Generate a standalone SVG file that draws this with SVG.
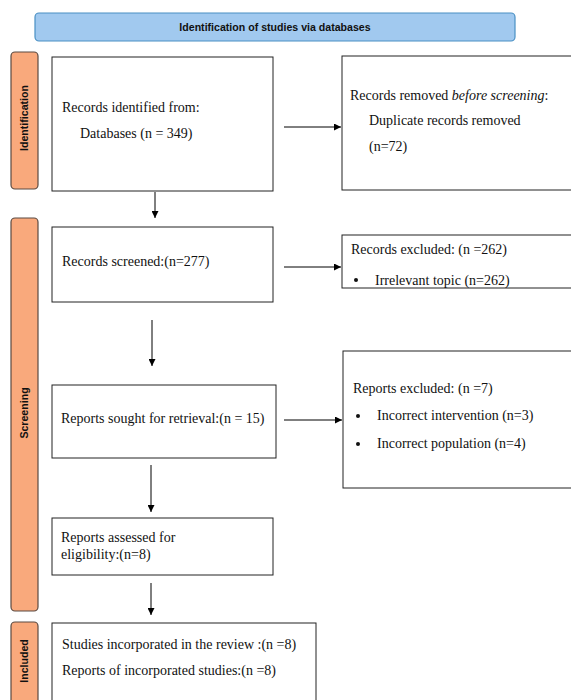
<svg xmlns="http://www.w3.org/2000/svg" width="571" height="700" viewBox="0 0 571 700">
<style>
.box{fill:#fff;stroke:#222;stroke-width:1}
.bar{fill:#f9a97c;stroke:#5a4a42;stroke-width:1.2}
.t{font-family:"Liberation Serif","Times New Roman",serif;font-size:14px;fill:#111}
.lbl{font-family:"Liberation Sans",Arial,sans-serif;font-size:10.6px;font-weight:bold;fill:#111;text-anchor:middle}
.conn{stroke:#000;stroke-width:1;fill:none}
</style>
<defs>
<marker id="ah" viewBox="0 0 10 10" refX="10" refY="5" markerWidth="7" markerHeight="7" markerUnits="userSpaceOnUse" orient="auto"><path d="M0,0 L10,5 L0,10 z" fill="#000"/></marker>
<clipPath id="c5"><rect x="342" y="235" width="240" height="53"/></clipPath>
</defs>
<rect width="571" height="700" fill="#fff"/>
<g id="header">
<rect x="35" y="13" width="480" height="28" rx="4" fill="#a1c9ef" stroke="#4a90c4" stroke-width="1.2"/>
<text class="lbl" x="275" y="31">Identification of studies via databases</text>
</g>
<g id="bar-identification">
<rect class="bar" x="11" y="52" width="27" height="137" rx="4"/>
<text class="lbl" transform="translate(28,118) rotate(-90)">Identification</text>
</g>
<g id="bar-screening">
<rect class="bar" x="11" y="218" width="27" height="393" rx="4"/>
<text class="lbl" transform="translate(28,413) rotate(-90)">Screening</text>
</g>
<g id="bar-included">
<rect class="bar" x="11" y="622" width="27" height="90" rx="4"/>
<text class="lbl" transform="translate(28,661) rotate(-90)">Included</text>
</g>
<g id="n1">
<rect class="box" x="52" y="57" width="221" height="134"/>
<text class="t" x="62" y="112">Records identified from:</text>
<text class="t" x="80" y="138">Databases (n = 349)</text>
</g>
<g id="n2">
<rect class="box" x="342" y="56" width="240" height="134"/>
<text class="t" x="350" y="100">Records removed <tspan font-style="italic">before screening</tspan>:</text>
<text class="t" x="369" y="125">Duplicate records removed</text>
<text class="t" x="369" y="151">(n=72)</text>
</g>
<g id="n3">
<rect class="box" x="52" y="227" width="221" height="75"/>
<text class="t" x="62" y="266">Records screened:(n=277)</text>
</g>
<g id="n4">
<rect class="box" x="342" y="235" width="240" height="53"/>
<g clip-path="url(#c5)">
<text class="t" x="351" y="254">Records excluded: (n =262)</text>
<circle cx="356" cy="280" r="2" fill="#111"/>
<text class="t" x="375" y="284.5">Irrelevant topic (n=262)</text>
</g>
</g>
<g id="n5">
<rect class="box" x="52" y="385" width="224" height="73"/>
<text class="t" x="61" y="423">Reports sought for retrieval:(n = 15)</text>
</g>
<g id="n6">
<rect class="box" x="343" y="351" width="240" height="137"/>
<text class="t" x="353" y="393">Reports excluded: (n =7)</text>
<circle cx="358" cy="416" r="2" fill="#111"/>
<text class="t" x="377" y="420">Incorrect intervention (n=3)</text>
<circle cx="358" cy="444" r="2" fill="#111"/>
<text class="t" x="377" y="448">Incorrect population (n=4)</text>
</g>
<g id="n7">
<rect class="box" x="52" y="518" width="221" height="57"/>
<text class="t" x="61" y="542">Reports assessed for</text>
<text class="t" x="61" y="559">eligibility:(n=8)</text>
</g>
<g id="n8">
<rect class="box" x="52" y="623" width="264" height="90"/>
<text class="t" x="62" y="649">Studies incorporated in the review :(n =8)</text>
<text class="t" x="62" y="675">Reports of incorporated studies:(n =8)</text>
</g>
<g id="connectors">
<line class="conn" x1="155" y1="192" x2="155" y2="218" marker-end="url(#ah)"/>
<line class="conn" x1="284" y1="127" x2="341" y2="127" marker-end="url(#ah)"/>
<line class="conn" x1="284" y1="267" x2="341" y2="267" marker-end="url(#ah)"/>
<line class="conn" x1="152" y1="320" x2="152" y2="366" marker-end="url(#ah)"/>
<line class="conn" x1="284" y1="420" x2="342" y2="420" marker-end="url(#ah)"/>
<line class="conn" x1="151" y1="465" x2="151" y2="512" marker-end="url(#ah)"/>
<line class="conn" x1="151" y1="583" x2="151" y2="615" marker-end="url(#ah)"/>
</g>
</svg>
